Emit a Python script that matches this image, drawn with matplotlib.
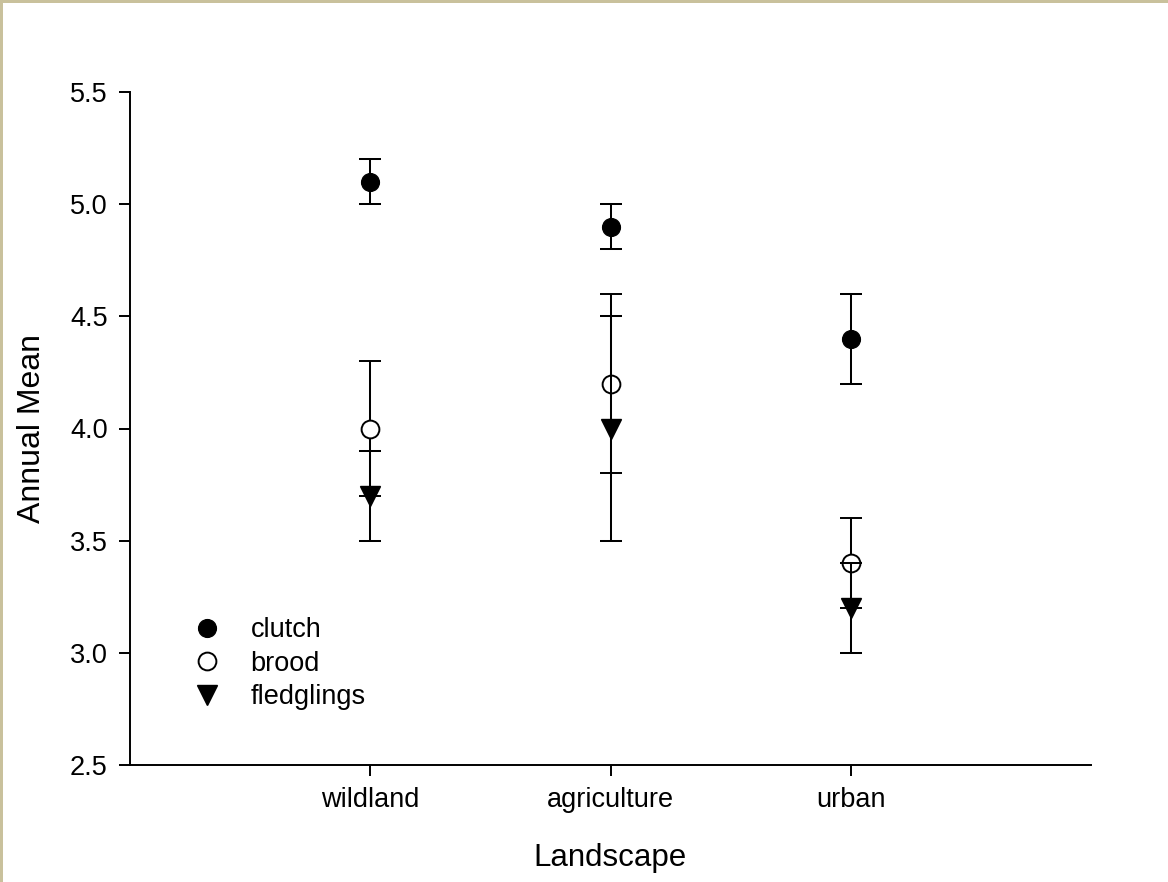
import matplotlib
matplotlib.use("Agg")
import matplotlib.pyplot as plt
from matplotlib.lines import Line2D
from matplotlib.patches import Rectangle
import numpy as np

plt.rcParams['font.family'] = ['Liberation Sans', 'DejaVu Sans']

categories = ["wildland", "agriculture", "urban"]
clutch = [5.1, 4.9, 4.4]
clutch_err = [0.1, 0.1, 0.2]
brood = [4.0, 4.2, 3.4]
brood_err = [0.3, 0.4, 0.2]
fledglings = [3.7, 4.0, 3.2]
fledglings_err = [0.2, 0.5, 0.2]
yticks = [2.5, 3.0, 3.5, 4.0, 4.5, 5.0, 5.5]

fig = plt.figure(figsize=(11.68, 8.82), dpi=100)
ax = fig.add_axes([130/1168, 1-765/882, 961/1168, 673/882])

x = np.arange(1, len(categories) + 1)
lw = 1.45
ms = 12.8
cap = 8

ax.errorbar(x, clutch, yerr=clutch_err, fmt='o', color='black', mfc='black', mec='black',
            ms=ms, elinewidth=lw, capsize=cap, capthick=lw, zorder=3)
ax.errorbar(x, brood, yerr=brood_err, fmt='o', color='black', mfc='white', mec='black', mew=1.4,
            ms=ms, elinewidth=lw, capsize=cap, capthick=lw, zorder=4)
ax.errorbar(x, fledglings, yerr=fledglings_err, fmt='v', color='black', mfc='black', mec='black',
            ms=ms + 1, elinewidth=lw, capsize=cap, capthick=lw, zorder=5)

ax.set_xlim(0, 4)
ax.set_ylim(2.5, 5.5)
ax.set_xticks(x)
ax.set_xticklabels(categories)
ax.set_yticks(yticks)
ax.set_yticklabels([f"{v:.1f}" for v in yticks])

for s in ['top', 'right']:
    ax.spines[s].set_visible(False)
for s in ['left', 'bottom']:
    ax.spines[s].set_linewidth(1.4)
ax.tick_params(axis='both', direction='out', length=8, width=1.4, labelsize=19.5, pad=8)

ax.set_xlabel("Landscape", fontsize=22.5, va='center')
ax.xaxis.set_label_coords(0.5, -0.138)
ax.set_ylabel("Annual Mean", fontsize=23, va='center')
ax.yaxis.set_label_coords(-0.102, 0.5)

handles = [
    Line2D([], [], linestyle='none', marker='o', color='black', mfc='black', ms=ms),
    Line2D([], [], linestyle='none', marker='o', color='black', mfc='white', mew=1.4, ms=ms),
    Line2D([], [], linestyle='none', marker='v', color='black', mfc='black', ms=ms + 1),
]
ax.legend(handles, ["clutch", "brood", "fledglings"], loc='upper left',
          bbox_to_anchor=(0.041, 0.256), frameon=False, fontsize=19.5,
          handlelength=1.0, handletextpad=1.1, labelspacing=0.28)

border = '#C9C19C'
fig.add_artist(Rectangle((0, 0), 3/1168, 1, transform=fig.transFigure, color=border, lw=0))
fig.add_artist(Rectangle((0, 1-3/882), 1, 3/882, transform=fig.transFigure, color=border, lw=0))

fig.savefig("out.png", dpi=100, facecolor='white')
